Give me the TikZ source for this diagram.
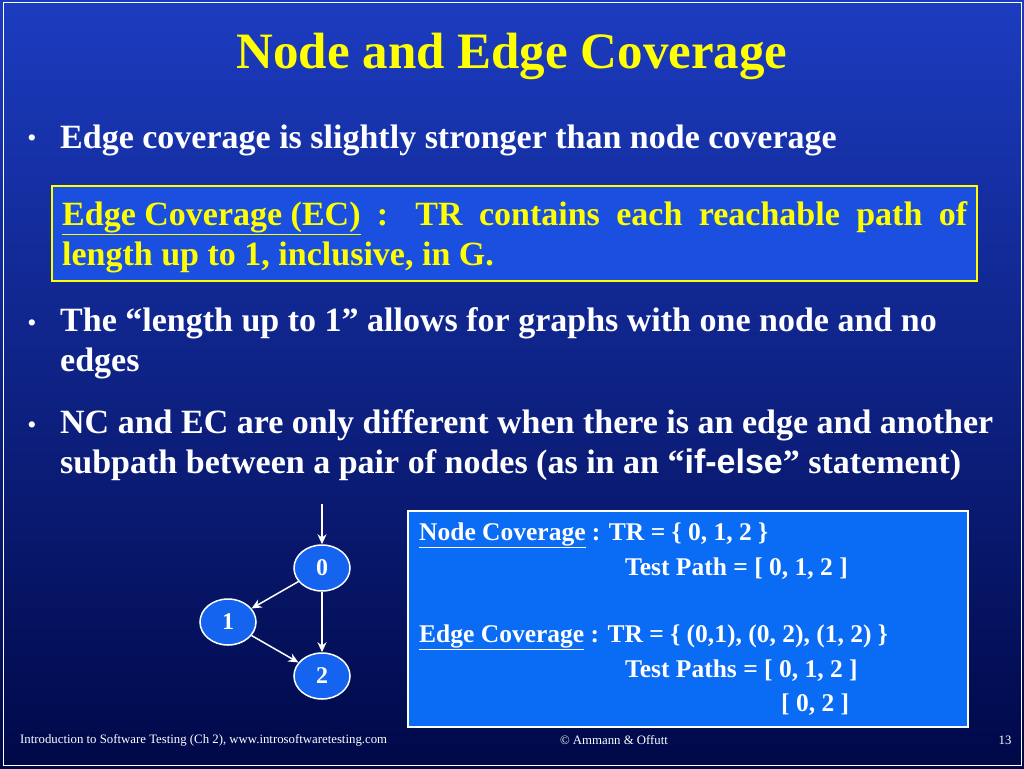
\documentclass[tikz,border=0pt]{standalone}
\usepackage{fontspec}
\setmainfont{Liberation Serif}
\newfontfamily\arialf{Liberation Sans}
\usetikzlibrary{arrows.meta,shapes.geometric}
\definecolor{bgtop}{HTML}{1C3CC0}
\definecolor{bgbot}{HTML}{000848}
\definecolor{ylw}{HTML}{FFFF00}
\definecolor{boxblue}{HTML}{1A4FE0}
\definecolor{rbox}{HTML}{0A6CF5}
\definecolor{nodeblue}{HTML}{1464F0}
\tikzset{
  txt/.style={text=white,font=\bfseries\fontsize{34}{40}\selectfont,anchor=west,inner sep=0},
  small/.style={text=white,font=\bfseries\fontsize{25.5}{28}\selectfont,anchor=west,inner sep=0},
  gnode/.style={ellipse,draw=white,line width=1.5pt,fill=nodeblue,minimum width=56,minimum height=46,text=white,font=\bfseries\fontsize{24}{24}\selectfont,inner sep=0},
  gedge/.style={draw=white,line width=1.5pt,-{Stealth[length=10,width=9]}},
  foot/.style={text=white,font=\fontsize{12.8}{14}\selectfont,inner sep=0},
  bul/.style={text=white,font=\fontsize{26}{26}\selectfont}
}
\begin{document}
\begin{tikzpicture}[x=1pt,y=-1pt]
\useasboundingbox (0,0) rectangle (1024,768);
\shade[top color=bgtop,bottom color=bgbot] (0,0) rectangle (1024,768);
\draw[white,line width=1pt] (3,3) rectangle (1021,765);
\node[text=ylw,font=\bfseries\fontsize{51}{55}\selectfont,inner sep=0] (title) at (512,56) {Node and Edge Coverage};
\node[bul] (b1) at (32,141) {•};
\node[txt] (t1) at (60,140) {Edge coverage is slightly stronger than node coverage};
\draw[draw=ylw,line width=1.5pt,fill=boxblue] (52,186) rectangle (977,281);
\node[txt,text=ylw,text width=905,align=justify,anchor=north west] (def) at (62,201)
 {\fontsize{34}{44}\selectfont\underline{Edge Coverage (EC)} : TR contains each reachable path of length up to 1, inclusive, in G.};
\node[bul] (b2) at (32,326) {•};
\node[txt,anchor=north west,align=left] (t2) at (60,307) {\fontsize{34}{38}\selectfont The “length up to 1” allows for graphs with one node and no\\edges};
\node[bul] (b3) at (32,428) {•};
\node[txt,anchor=north west,align=left] (t3) at (60,409) {\fontsize{34}{38}\selectfont NC and EC are only different when there is an edge and another\\subpath between a pair of nodes (as in an “{\arialf if-else}” statement)};
% graph
\coordinate (in) at (322,504);
\node[gnode] (n0) at (322,568) {0};
\node[gnode] (n1) at (228,622) {1};
\node[gnode] (n2) at (322,676) {2};
\draw[gedge] (in) -- (n0);
\draw[gedge] (n0) -- (n1);
\draw[gedge] (n0) -- (n2);
\draw[gedge] (n1) -- (n2);
% right box
\draw[draw=white,line width=1.5pt,fill=rbox] (408,511) rectangle (968,727);
\node[small] (r1) at (419,535) {\underline{Node Coverage} : TR = \{ 0, 1, 2 \}};
\node[small] (r2) at (625,569) {Test Path = [ 0, 1, 2 ]};
\node[small] (r3) at (419,637) {\underline{Edge Coverage} : TR = \{ (0,1), (0, 2), (1, 2) \}};
\node[small] (r4) at (625,671) {Test Paths = [ 0, 1, 2 ]};
\node[small] (r5) at (781,705) {[ 0, 2 ]};
% footer
\node[foot,anchor=west] (f1) at (20,740) {Introduction to Software Testing  (Ch 2), www.introsoftwaretesting.com};
\node[foot] (f2) at (614,740) {© Ammann \& Offutt};
\node[foot] (f3) at (1005,740) {13};
\end{tikzpicture}
\end{document}
